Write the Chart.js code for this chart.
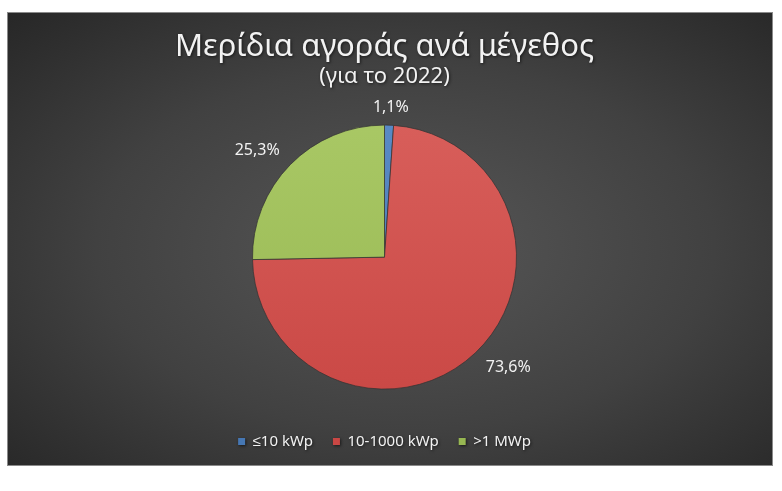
<!DOCTYPE html>
<html>
<head>
<meta charset="utf-8">
<script src="https://cdn.jsdelivr.net/npm/chart.js@4"></script>
<style>
  body { margin: 0; background: #fff; }
  #frame {
    position: absolute; left: 7px; top: 12px; width: 764px; height: 452px;
    border: 1px solid #8a8a8a;
    background: radial-gradient(ellipse at 52% 52%, #575757 0%, #414141 55%, #272727 100%);
  }
  canvas { display: block; }
</style>
</head>
<body>
<div id="frame"><canvas id="shareChart" width="764" height="452"></canvas></div>
<script>
var sizeLabels = ['≤10 kWp', '10-1000 kWp', '>1 MWp'];
var shares = [1.1, 73.6, 25.3];
var sliceTop = ['#5a8bc6', '#d9605c', '#aac966'];
var sliceBottom = ['#4677b3', '#c94744', '#97b752'];

var fontFamily = "'Noto Sans', sans-serif";
var textColor = '#f2f2f2';

// light-to-dark shading on each slice, a bit like the bevel in the original
function sliceFill(context) {
  var chart = context.chart;
  var area = chart.chartArea;
  if (!area) return sliceTop[context.dataIndex];
  var g = chart.ctx.createLinearGradient(0, area.top, 0, area.bottom);
  g.addColorStop(0, sliceTop[context.dataIndex]);
  g.addColorStop(1, sliceBottom[context.dataIndex]);
  return g;
}

// soft shadow under title / legend text, switched off before the pie
var textShadow = {
  id: 'textShadow',
  beforeDraw: function(chart) {
    var c = chart.ctx;
    c.shadowColor = 'rgba(0,0,0,0.6)';
    c.shadowBlur = 3;
    c.shadowOffsetX = 1;
    c.shadowOffsetY = 1;
  },
  beforeDatasetsDraw: function(chart) {
    var c = chart.ctx;
    c.shadowColor = 'rgba(0,0,0,0)';
    c.shadowBlur = 0;
    c.shadowOffsetX = 0;
    c.shadowOffsetY = 0;
  }
};

// percentage labels just outside each slice
var outsideLabels = {
  id: 'outsideLabels',
  afterDatasetsDraw: function(chart) {
    var c = chart.ctx;
    var meta = chart.getDatasetMeta(0);
    c.save();
    c.font = '16px ' + fontFamily;
    c.fillStyle = textColor;
    c.textAlign = 'center';
    c.textBaseline = 'middle';
    meta.data.forEach(function(arc, i) {
      var p = arc.getProps(['x', 'y', 'startAngle', 'endAngle', 'outerRadius']);
      var mid = (p.startAngle + p.endAngle) / 2;
      var dx = Math.cos(mid), dy = Math.sin(mid);
      var text = shares[i].toFixed(1).replace('.', ',') + '%';
      var w = c.measureText(text).width + 4, h = 12;
      var r = p.outerRadius + 12;
      var sx = Math.sign(dx) * w / 2 * Math.min(1, Math.abs(dx) / 0.5);
      var sy = Math.sign(dy) * h / 2 * Math.min(1, Math.abs(dy) / 0.5);
      c.fillText(text, p.x + dx * r + sx, p.y + dy * r + sy);
    });
    c.restore();
  }
};

var ctx = document.getElementById('shareChart');
var shareChart = new Chart(ctx, {
  type: 'pie',
  data: {
    labels: sizeLabels,
    datasets: [{
      data: shares,
      backgroundColor: sliceFill,
      borderColor: 'rgba(50,50,50,0.7)',
      borderWidth: 1,
      radius: 132
    }]
  },
  options: {
    responsive: false,
    animation: false,
    layout: { padding: { left: 0, right: 11, top: 6, bottom: 6 } },
    plugins: {
      title: {
        display: true,
        text: 'Μερίδια αγοράς ανά μέγεθος',
        color: textColor,
        font: { family: fontFamily, size: 31, weight: 'normal' },
        padding: { top: 10, bottom: 0 }
      },
      subtitle: {
        display: true,
        text: '(για το 2022)',
        color: textColor,
        font: { family: fontFamily, size: 22, weight: 'normal', lineHeight: 1 },
        padding: { top: 0, bottom: 12 }
      },
      legend: {
        position: 'bottom',
        labels: {
          color: textColor,
          boxWidth: 7,
          boxHeight: 7,
          padding: 20,
          font: { family: fontFamily, size: 15 },
          generateLabels: function(chart) {
            return sizeLabels.map(function(label, i) {
              return {
                text: label,
                fillStyle: sliceBottom[i],
                strokeStyle: sliceBottom[i],
                lineWidth: 0,
                fontColor: textColor,
                hidden: false,
                index: i
              };
            });
          }
        }
      },
      tooltip: { enabled: false }
    }
  },
  plugins: [textShadow, outsideLabels]
});
</script>
</body>
</html>
